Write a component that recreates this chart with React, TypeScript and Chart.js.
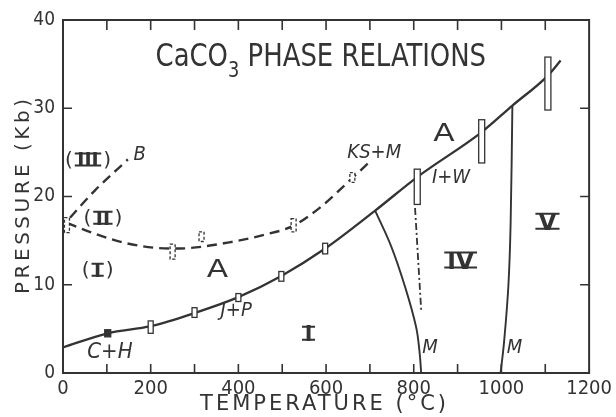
import React, { useEffect, useRef } from 'react';
import { Chart, registerables } from 'chart.js';

Chart.register(...registerables);

// ---------- data (temperature °C, pressure kb) ----------
const xMin = 0;
const xMax = 1200;
const xTickStep = 100;
const xLabelStep = 200;
const yMin = 0;
const yMax = 40;
const yTickStep = 10;

// calcite I / aragonite boundary (solid)
const boundaryT = [0, 102, 200, 300, 400, 498, 598, 712, 808, 955, 1025, 1106, 1135];
const boundaryP = [2.9, 4.5, 5.3, 6.8, 8.6, 11.0, 14.1, 18.4, 22.2, 27.3, 30.3, 33.7, 35.4];

// metastable calcite II / aragonite boundary (dashed)
const dashedT = [9, 77, 145, 207, 260, 379, 454, 526, 590, 660, 701];
const dashedP = [17.0, 15.7, 14.7, 14.2, 14.1, 14.8, 15.6, 16.7, 18.9, 22.1, 24.0];

// II / III boundary (dashed, "B")
const bLineT = [16, 73, 148];
const bLineP = [17.6, 20.7, 24.2];

// I / IV boundary (solid, left "M")
const leftMT = [712, 749, 780, 805, 813, 817];
const leftMP = [18.4, 14.3, 9.8, 5.3, 2.5, 0];

// IV / V boundary (solid, right "M")
const rightMT = [998, 1006, 1016, 1021, 1025];
const rightMP = [0, 3.5, 10, 17, 30.3];

// dash-dot line below the 800 °C bracket
const dashDotT = [803, 817];
const dashDotP = [18.7, 7.1];

// experimental brackets
const boxT = [9, 102, 200, 300, 400, 498, 598, 250, 316, 526, 660, 808, 955, 1106];
const boxLow = [15.9, 4.1, 4.5, 6.3, 8.1, 10.4, 13.5, 12.9, 14.9, 16.0, 21.6, 19.1, 23.8, 29.8];
const boxHigh = [17.6, 4.9, 5.9, 7.4, 9.0, 11.5, 14.7, 14.6, 16.0, 17.5, 22.7, 23.1, 28.7, 35.8];
const boxKind = ['dash', 'filled', 'solid', 'solid', 'solid', 'solid', 'solid', 'dash', 'dash', 'dash', 'dash', 'bar', 'bar', 'bar'];

// text annotations
const labelText = ['(III)', 'B', '(II)', '(I)', 'A', 'I', 'C+H', 'J+P', 'KS+M', 'I+W', 'A', 'IV', 'V', 'M', 'M'];
const labelT = [57, 175, 91, 79, 352, 560, 107, 395, 710, 885, 869, 907, 1105, 837, 1030];
const labelP = [24.2, 24.7, 17.6, 11.7, 11.7, 4.5, 2.4, 7.1, 24.9, 22.1, 27.1, 12.8, 17.2, 2.9, 2.9];
const labelKind = ['romanP', 'ital', 'romanP', 'romanP', 'bigA', 'roman', 'italL', 'ital', 'ital', 'ital', 'bigA', 'romanL', 'romanL', 'ital', 'ital'];

const titleT = 588;
const titleP = 36.1;

// ---------- styles ----------
const INK = '#333333';
const NARROW = '"Liberation Sans Narrow", "DejaVu Sans Condensed", "Noto Sans", sans-serif';
const WIDE = '"DejaVu Sans", "Noto Sans", sans-serif';

function drawRoman(ctx: CanvasRenderingContext2D, s: string, cx: number, cy: number, capH: number, paren: boolean) {
  const fs = capH / 0.73;
  ctx.font = `bold ${fs}px ${WIDE}`;
  ctx.textAlign = 'center';
  ctx.textBaseline = 'alphabetic';
  const w = ctx.measureText(s).width;
  ctx.fillText(s, cx, cy + capH / 2);
  const ext = capH * 0.18;
  const lw = 2;
  ctx.lineWidth = lw;
  ctx.beginPath();
  ctx.moveTo(cx - w / 2 - ext, cy - capH / 2 + lw / 2);
  ctx.lineTo(cx + w / 2 + ext, cy - capH / 2 + lw / 2);
  ctx.moveTo(cx - w / 2 - ext, cy + capH / 2 - lw / 2);
  ctx.lineTo(cx + w / 2 + ext, cy + capH / 2 - lw / 2);
  ctx.stroke();
  if (paren) {
    ctx.font = `${fs * 1.05}px ${WIDE}`;
    ctx.textBaseline = 'middle';
    ctx.textAlign = 'right';
    ctx.fillText('(', cx - w / 2 - ext - 2, cy + 1);
    ctx.textAlign = 'left';
    ctx.fillText(')', cx + w / 2 + ext + 2, cy + 1);
  }
}

function spacedText(ctx: CanvasRenderingContext2D, s: string, cx: number, cy: number, font: string, spacing: number) {
  ctx.font = font;
  (ctx as any).letterSpacing = `${spacing}px`;
  ctx.textAlign = 'center';
  ctx.textBaseline = 'middle';
  ctx.fillText(s, cx + spacing / 2, cy);
  (ctx as any).letterSpacing = '0px';
}

const annotations = {
  id: 'annotations',
  afterDatasetsDraw(chart: any) {
    const { ctx, chartArea: a } = chart;
    const xs = chart.scales.x;
    const ys = chart.scales.y;
    const X = (v: number) => xs.getPixelForValue(v);
    const Y = (v: number) => ys.getPixelForValue(v);
    ctx.save();
    ctx.fillStyle = INK;
    ctx.strokeStyle = INK;

    // brackets
    for (let i = 0; i < boxT.length; i++) {
      const k = boxKind[i];
      const cx = X(boxT[i]);
      const top = Y(boxHigh[i]);
      const bot = Y(boxLow[i]);
      const w = k === 'bar' ? 6 : k === 'filled' ? 6 : 5;
      ctx.fillStyle = k === 'filled' ? INK : '#fff';
      ctx.fillRect(cx - w / 2, top, w, bot - top);
      ctx.lineWidth = 1.3;
      ctx.setLineDash(k === 'dash' ? [3, 2] : []);
      ctx.strokeRect(cx - w / 2, top, w, bot - top);
    }
    ctx.setLineDash([]);
    ctx.fillStyle = INK;

    // frame and inward ticks
    ctx.lineWidth = 2;
    ctx.strokeRect(a.left, a.top, a.right - a.left, a.bottom - a.top);
    ctx.lineWidth = 1.6;
    ctx.beginPath();
    for (const t of xs.ticks) {
      if (t.value <= xMin || t.value >= xMax) continue;
      const px = X(t.value);
      ctx.moveTo(px, a.bottom);
      ctx.lineTo(px, a.bottom - 9);
      ctx.moveTo(px, a.top);
      ctx.lineTo(px, a.top + 10);
    }
    for (const t of ys.ticks) {
      if (t.value <= yMin || t.value >= yMax) continue;
      const py = Y(t.value);
      ctx.moveTo(a.left, py);
      ctx.lineTo(a.left + 9, py);
      ctx.moveTo(a.right, py);
      ctx.lineTo(a.right - 9, py);
    }
    ctx.stroke();

    // title  CaCO3 PHASE RELATIONS (condensed lettering)
    {
      const cx = X(titleT);
      const cy = Y(titleP);
      const sx = 0.9;
      const f1 = `32px ${NARROW}`;
      const f2 = `22px ${NARROW}`;
      ctx.save();
      ctx.translate(cx, cy);
      ctx.scale(sx, 1);
      ctx.textBaseline = 'alphabetic';
      ctx.textAlign = 'left';
      ctx.font = f1;
      const w1 = ctx.measureText('CaCO').width;
      const w3 = ctx.measureText(' PHASE RELATIONS').width;
      ctx.font = f2;
      const w2 = ctx.measureText('3').width;
      const x0 = -(w1 + w2 + w3) / 2;
      const base = 11.5;
      ctx.font = f1;
      ctx.fillText('CaCO', x0, base);
      ctx.font = f2;
      ctx.fillText('3', x0 + w1, base + 11);
      ctx.font = f1;
      ctx.fillText(' PHASE RELATIONS', x0 + w1 + w2, base);
      ctx.restore();
    }

    // annotations
    for (let i = 0; i < labelText.length; i++) {
      const s = labelText[i];
      const k = labelKind[i];
      const cx = X(labelT[i]);
      const cy = Y(labelP[i]);
      if (k === 'romanP') {
        drawRoman(ctx, s.replace(/[()]/g, ''), cx, cy, 14, true);
      } else if (k === 'roman') {
        drawRoman(ctx, s, cx, cy, 15, false);
      } else if (k === 'romanL') {
        drawRoman(ctx, s, cx, cy, 17, false);
      } else if (k === 'bigA') {
        ctx.save();
        ctx.translate(cx, cy);
        ctx.scale(1.25, 1);
        ctx.font = `25px ${WIDE}`;
        ctx.textAlign = 'center';
        ctx.textBaseline = 'middle';
        ctx.fillText(s, 0, 1);
        ctx.restore();
      } else {
        ctx.font = `italic ${k === 'italL' ? 22 : 20}px ${NARROW}`;
        ctx.textAlign = 'center';
        ctx.textBaseline = 'middle';
        ctx.fillText(s, cx, cy);
      }
    }

    // axis titles
    spacedText(ctx, 'TEMPERATURE (°C)', (a.left + a.right) / 2 - 3, 405, `21px ${WIDE}`, 3);
    ctx.save();
    ctx.translate(24, (a.top + a.bottom) / 2);
    ctx.rotate(-Math.PI / 2);
    spacedText(ctx, 'PRESSURE (Kb)', 0, 0, `20px ${WIDE}`, 3.5);
    ctx.restore();

    ctx.restore();
  },
};

function series(ts: number[], ps: number[]) {
  return ts.map((t, i) => ({ x: t, y: ps[i] }));
}

export default function App() {
  const ref = useRef<HTMLCanvasElement>(null);
  useEffect(() => {
    if (!ref.current) return;
    const line = (data: any, dash: number[] = [], width = 2, smooth = 'monotone') => ({
      data,
      showLine: true,
      borderColor: INK,
      borderWidth: width,
      borderDash: dash,
      pointRadius: 0,
      fill: false,
      cubicInterpolationMode: smooth === 'monotone' ? 'monotone' : 'default',
      tension: smooth === 'monotone' ? 0 : 0.4,
    });
    const chart = new Chart(ref.current, {
      type: 'scatter',
      data: {
        datasets: [
          line(series(boundaryT, boundaryP), [], 2.3),
          line(series(dashedT, dashedP), [10, 6], 2.4),
          line(series(bLineT, bLineP), [10, 6], 2.4),
          line(series(leftMT, leftMP), [], 1.9, 'tension'),
          line(series(rightMT, rightMP), [], 1.9, 'tension'),
          line(series(dashDotT, dashDotP), [7, 3, 2, 3], 1.8),
        ] as any,
      },
      options: {
        responsive: false,
        animation: false,
        events: [],
        layout: { padding: { top: 20, right: 24, left: 0, bottom: 0 } },
        plugins: { legend: { display: false }, tooltip: { enabled: false }, title: { display: false } },
        scales: {
          x: {
            type: 'linear',
            min: xMin,
            max: xMax,
            grid: { display: false, drawTicks: false },
            border: { display: false },
            ticks: {
              stepSize: xTickStep,
              autoSkip: false,
              maxRotation: 0,
              padding: 4,
              color: INK,
              font: { family: NARROW, size: 20 },
              callback: (v: any) => (Number(v) % xLabelStep === 0 ? String(v) : ''),
            },
            afterFit: (s: any) => {
              s.height = 44;
            },
          },
          y: {
            type: 'linear',
            min: yMin,
            max: yMax,
            grid: { display: false, drawTicks: false },
            border: { display: false },
            ticks: {
              stepSize: yTickStep,
              padding: 8,
              color: INK,
              font: { family: NARROW, size: 19 },
            },
            afterFit: (s: any) => {
              s.width = 63;
            },
          },
        },
      } as any,
      plugins: [annotations],
    });
    return () => chart.destroy();
  }, []);
  return (
    <div style={{ position: 'absolute', left: 0, top: 0, width: 616, height: 417, background: '#fff' }}>
      <canvas ref={ref} width={616} height={417} style={{ display: 'block', width: 616, height: 417 }} />
    </div>
  );
}
